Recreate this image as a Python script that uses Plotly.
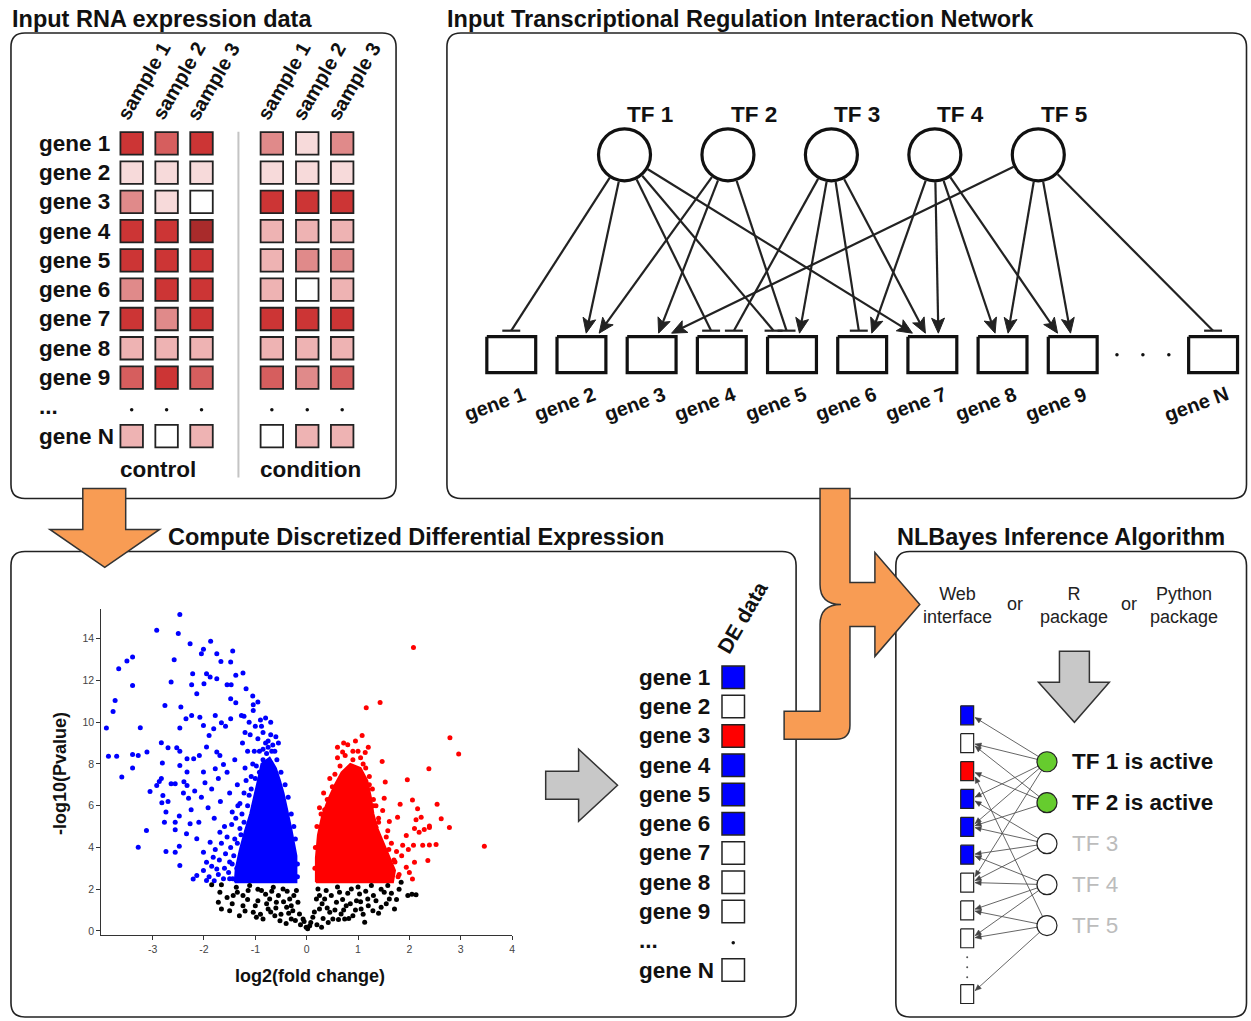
import plotly.graph_objects as go
import math

W, H = 1251, 1021
FONT = "Liberation Sans, Arial, sans-serif"

# ---------------- data ----------------
genes = ["gene 1", "gene 2", "gene 3", "gene 4", "gene 5", "gene 6", "gene 7", "gene 8", "gene 9", "gene N"]
samples = ["sample 1", "sample 2", "sample 3"]
# expression intensity level 0 (white) .. 6 (darkest red)
control_expr = [[5, 4, 5], [1, 1, 1], [3, 1, 0], [5, 5, 6], [5, 5, 5],
                [3, 5, 5], [5, 3, 5], [2, 2, 2], [4, 5, 4], [2, 0, 2]]
condition_expr = [[3, 1, 3], [1, 1, 1], [5, 5, 5], [2, 2, 2], [2, 3, 3],
                  [2, 0, 2], [5, 5, 5], [2, 2, 2], [4, 3, 4], [0, 2, 2]]
expr_palette = ["#ffffff", "#f7dada", "#eeb3b3", "#e08a8a", "#d65e5e", "#cc3535", "#a92b2b"]

tfs = ["TF 1", "TF 2", "TF 3", "TF 4", "TF 5"]
# (tf index, gene index, type) : 'act' = arrow, 'rep' = T-bar
edges = [(0, 0, 'rep'), (0, 1, 'act'), (0, 3, 'rep'), (0, 4, 'rep'), (0, 6, 'act'),
         (1, 1, 'act'), (1, 2, 'act'), (1, 4, 'rep'),
         (2, 3, 'rep'), (2, 4, 'act'), (2, 5, 'rep'), (2, 6, 'act'),
         (3, 5, 'act'), (3, 6, 'act'), (3, 7, 'act'), (3, 8, 'act'),
         (4, 2, 'act'), (4, 7, 'act'), (4, 8, 'act'), (4, 9, 'rep')]
de_state = [-1, 0, 1, -1, -1, -1, 0, 0, 0, 0]
tf_active = [True, True, False, False, False]
de_colors = {-1: "#0000ff", 0: "#ffffff", 1: "#ff0000"}

# volcano plot: (log2 fold change, -log10 p)
volcano_down = [
    (-2.47, 15.15), (-2.92, 14.40), (-2.50, 14.24), (-2.27, 13.76), (-1.87, 13.87), (-2.01, 13.49), (-2.05, 13.28),
    (-1.75, 13.28), (-1.44, 13.41), (-1.67, 12.91), (-1.48, 12.88), (-2.58, 12.99), (-3.39, 13.12), (-3.50, 12.93),
    (-3.66, 12.56), (-3.39, 11.76), (-3.73, 11.04), (-3.77, 10.51), (-3.90, 9.72), (-3.86, 8.37), (-3.70, 8.37),
    (-3.60, 7.37), (-3.39, 7.80), (-3.39, 8.45), (-3.28, 8.40), (-3.24, 9.73), (-3.11, 8.57),
    (-2.76, 10.80), (-2.64, 11.92), (-2.22, 12.32), (-2.24, 11.79), (-2.14, 11.36), (-2.00, 11.84), (-1.95, 12.32),
    (-1.88, 12.16), (-1.75, 12.08), (-1.55, 11.79), (-1.47, 11.79), (-1.38, 12.24), (-1.24, 12.35), (-1.18, 11.60),
    (-1.48, 11.12), (-1.38, 10.93), (-1.05, 11.25), (-0.95, 10.96), (-1.04, 10.83), (-1.04, 10.56),
    (-2.45, 10.72), (-2.35, 10.16), (-2.24, 10.32), (-2.08, 10.24), (-2.01, 9.84), (-1.78, 10.32), (-1.81, 9.68),
    (-1.66, 9.97), (-1.58, 9.80), (-1.48, 10.16), (-1.27, 10.32), (-1.22, 10.28), (-2.47, 9.72), (-1.90, 9.36),
    (-2.83, 9.01), (-2.70, 8.77), (-2.53, 8.77), (-2.47, 8.60), (-2.81, 8.04), (-2.47, 7.92), (-2.33, 8.25),
    (-2.20, 8.25), (-2.09, 8.40), (-1.95, 8.81), (-1.75, 8.57), (-1.69, 8.40), (-1.62, 7.97), (-1.78, 7.77),
    (-2.01, 7.61), (-2.33, 7.61), (-2.33, 6.97), (-2.39, 7.15), (-2.56, 7.05), (-2.64, 7.05), (-2.87, 7.16),
    (-2.83, 7.30), (-2.92, 6.97), (-3.05, 6.68), (-2.80, 6.49), (-2.82, 6.14), (-2.70, 6.20), (-2.74, 5.69),
    (-2.77, 5.21), (-3.12, 4.81), (-3.28, 4.01), (-2.56, 4.84), (-2.48, 5.50), (-2.40, 6.60), (-2.30, 6.35),
    (-2.25, 5.80), (-2.18, 6.70), (-2.10, 5.20), (-2.05, 6.40), (-1.98, 7.10), (-1.92, 5.90), (-1.85, 6.80),
    (-1.80, 5.40), (-1.72, 7.30), (-1.68, 6.20), (-1.60, 5.00), (-1.55, 7.60), (-1.50, 6.60), (-1.45, 5.70),
    (-1.40, 8.20), (-1.35, 7.00), (-1.30, 6.10), (-1.25, 9.00), (-1.20, 7.80), (-1.15, 8.60), (-1.10, 9.40),
    (-1.05, 8.00), (-1.00, 9.80), (-0.95, 9.20), (-0.90, 10.10), (-0.85, 9.50), (-0.80, 9.00), (-0.75, 8.80),
    (-0.70, 9.40), (-0.62, 8.60), (-0.66, 8.90),
    (-2.74, 3.80), (-2.56, 3.77), (-2.47, 3.13), (-2.48, 4.05), (-2.34, 4.65), (-2.21, 2.49),
    (-2.14, 2.65), (-2.01, 2.89), (-2.01, 3.77), (-1.95, 2.41), (-1.95, 3.29), (-1.88, 4.25), (-1.82, 3.53),
    (-1.75, 2.97), (-1.69, 4.73), (-2.27, 5.13), (-2.14, 4.41), (-2.56, 5.21),
    (-1.90, 2.60), (-1.85, 3.10), (-1.80, 2.40), (-1.78, 3.90), (-1.72, 2.70), (-1.70, 3.40), (-1.66, 4.20),
    (-1.62, 2.50), (-1.60, 3.00), (-1.58, 3.70), (-1.55, 4.50), (-1.52, 2.80), (-1.50, 3.30), (-1.48, 4.00),
    (-1.46, 5.10), (-1.44, 2.50), (-1.42, 3.60), (-1.40, 4.40), (-1.38, 5.40), (-1.36, 3.00), (-1.34, 6.00),
    (-1.30, 4.90), (-1.26, 5.60), (-1.22, 6.60), (-1.18, 7.20), (-1.12, 6.50), (-1.08, 7.40), (-1.02, 8.60),
    (-0.98, 7.90), (-0.92, 8.60), (-0.85, 8.20), (-0.78, 8.50),
    (-1.50, 2.50), (-1.45, 3.20), (-1.35, 4.20), (-1.28, 4.60), (-1.22, 5.20), (-1.15, 6.00), (-1.08, 6.80),
    (-1.00, 7.30), (-0.92, 7.60), (-0.85, 8.70), (-0.75, 9.10), (-0.68, 8.60), (-0.58, 8.20), (-0.50, 7.60),
    (-0.42, 7.00), (-0.36, 6.40), (-0.30, 5.60), (-0.25, 5.00), (-0.22, 4.40), (-0.18, 3.20), (-0.18, 2.60),
    (-0.55, 9.00), (-0.60, 9.30), (-0.88, 9.80), (-0.80, 10.20), (-0.70, 10.00), (-1.12, 10.00), (-1.20, 9.50)]
volcano_down_core = [(-1.40, 2.33), (-0.20, 2.33), (-0.20, 3.6), (-0.24, 4.2), (-0.30, 4.9), (-0.38, 5.8),
                     (-0.45, 6.6), (-0.52, 7.2), (-0.60, 7.8), (-0.72, 8.3), (-0.88, 8.0), (-0.95, 7.2),
                     (-1.02, 6.4), (-1.10, 5.6), (-1.20, 4.8), (-1.30, 3.9), (-1.38, 3.0)]
volcano_up = [
    (2.08, 13.57), (1.16, 10.69), (1.43, 10.94), (2.79, 9.25), (2.96, 8.47), (2.38, 7.77), (1.47, 8.12),
    (1.96, 7.24), (1.53, 7.13), (1.08, 9.36), (0.80, 8.92), (0.70, 8.57), (1.14, 8.54), (1.51, 6.36),
    (2.06, 6.27), (2.54, 6.07), (2.16, 5.85), (2.23, 5.45), (2.62, 5.37), (1.82, 6.07), (1.48, 5.77),
    (1.61, 5.24), (1.77, 5.45), (2.13, 5.33), (2.39, 4.95), (2.78, 4.95), (2.29, 4.86), (2.10, 4.90),
    (1.94, 4.57), (3.46, 4.06), (2.52, 4.14), (2.39, 4.12), (2.26, 4.10), (2.08, 4.10), (1.35, 4.97),
    (1.25, 4.60), (2.19, 4.73), (2.36, 3.37), (2.10, 3.29), (2.06, 2.49), (1.94, 3.05), (1.87, 4.10),
    (2.39, 5.02), (1.75, 3.80), (1.80, 2.70), (1.72, 3.30), (1.85, 3.60), (1.98, 3.90), (2.00, 2.80),
    (1.65, 4.20), (1.58, 4.80), (1.40, 5.40), (1.35, 6.00), (1.28, 6.80), (1.22, 7.40), (1.10, 8.00),
    (1.00, 8.60), (0.90, 8.20), (0.85, 7.60), (0.95, 9.10), (0.65, 7.90), (0.55, 7.50), (0.50, 6.90),
    (0.40, 6.30), (0.35, 5.80), (0.28, 5.60), (1.30, 6.30), (1.20, 8.80),
    (0.20, 5.00), (0.25, 5.90), (0.33, 6.60), (0.45, 7.30), (0.60, 8.30), (0.75, 8.40), (0.90, 8.60),
    (1.05, 8.30), (1.15, 7.80), (1.22, 7.00), (1.30, 6.00), (1.40, 5.20), (1.55, 4.50), (1.60, 3.90),
    (1.70, 3.40), (1.78, 2.60), (0.16, 3.00), (0.17, 4.00), (0.72, 9.00), (0.60, 8.80)]
volcano_up_core = [(0.18, 2.33), (1.68, 2.33), (1.72, 2.9), (1.62, 3.5), (1.50, 4.2), (1.38, 4.9),
                   (1.30, 5.6), (1.25, 6.4), (1.18, 7.2), (1.05, 7.8), (0.85, 8.0), (0.68, 7.6),
                   (0.55, 7.0), (0.42, 6.3), (0.30, 5.5), (0.22, 4.6), (0.18, 3.5)]
volcano_ns = [
    (-1.85, 2.21), (-1.66, 2.21), (-1.69, 1.85), (-1.72, 1.37), (-1.66, 1.05), (-1.50, 0.97), (-1.43, 1.69),
    (-1.37, 2.09), (-1.31, 0.73), (-1.24, 1.21), (-1.24, 1.69), (-1.14, 1.93), (-1.11, 2.17), (-1.04, 0.89),
    (-0.98, 0.65), (-0.95, 1.45), (-0.88, 1.93), (-0.85, 0.57), (-0.75, 1.05), (-0.72, 1.53), (-0.65, 2.09),
    (-0.62, 0.73), (-0.59, 1.37), (-0.52, 0.49), (-0.46, 2.01), (-0.39, 1.13), (-0.33, 1.53), (-0.30, 0.57),
    (-0.27, 0.97), (-0.20, 1.93), (-0.17, 1.37), (-0.14, 0.81), (-0.07, 0.57), (-0.01, 0.17), (0.06, 0.25),
    (0.12, 0.65), (0.19, 1.53), (0.22, 2.01), (0.25, 1.05), (0.29, 0.17), (0.35, 1.53), (0.38, 1.93),
    (0.45, 0.89), (0.51, 0.57), (0.58, 1.37), (0.64, 1.85), (0.67, 0.81), (0.74, 0.57), (0.77, 1.21),
    (0.87, 2.01), (0.90, 0.73), (0.97, 1.45), (1.03, 1.77), (1.06, 1.05), (1.13, 0.41), (1.19, 1.53),
    (1.26, 2.17), (1.29, 0.97), (1.35, 1.45), (1.45, 1.13), (1.51, 1.85), (1.58, 2.17), (1.61, 1.53),
    (1.71, 1.05), (1.84, 2.33), (1.97, 1.69), (2.13, 1.73),
    (-1.55, 1.60), (-1.45, 1.30), (-1.35, 1.85), (-1.20, 0.95), (-1.15, 1.50), (-1.00, 1.20), (-0.95, 2.00),
    (-0.90, 0.80), (-0.80, 1.75), (-0.78, 1.30), (-0.70, 0.90), (-0.68, 1.90), (-0.60, 1.10), (-0.55, 1.70),
    (-0.50, 0.80), (-0.45, 1.40), (-0.40, 0.35), (-0.38, 1.90), (-0.35, 0.85), (-0.30, 1.20), (-0.25, 1.70),
    (-0.22, 0.50), (-0.12, 0.30), (-0.05, 0.45), (0.02, 0.10), (0.08, 0.40), (0.15, 0.90), (0.20, 0.30),
    (0.25, 1.70), (0.30, 1.30), (0.32, 0.60), (0.40, 1.10), (0.42, 0.40), (0.48, 1.70), (0.55, 1.00),
    (0.60, 2.10), (0.62, 0.55), (0.70, 1.50), (0.72, 1.00), (0.80, 1.80), (0.82, 0.60), (0.85, 1.30),
    (0.95, 1.00), (1.00, 2.10), (1.05, 1.40), (1.10, 0.80), (1.15, 1.90), (1.20, 1.20), (1.30, 1.70),
    (1.40, 0.85), (1.45, 2.00), (1.55, 1.30), (1.65, 1.80), (1.75, 1.50), (1.80, 2.00), (2.05, 1.75)]
x_ticks = [-3, -2, -1, 0, 1, 2, 3, 4]
y_ticks = [0, 2, 4, 6, 8, 10, 12, 14]

# ---------------- figure ----------------
fig = go.Figure()
shapes = []
annos = []


def txt(x, y, s, size, bold=True, color="#111", xanchor="center", angle=0):
    annos.append(dict(x=x, y=y, xref="x", yref="y", text=("<b>%s</b>" % s) if bold else s,
                      showarrow=False, xanchor=xanchor, yanchor="middle", textangle=angle,
                      font=dict(family=FONT, size=size, color=color)))


def rrect(x0, y0, x1, y1, r):
    return ("M%g,%g L%g,%g Q%g,%g %g,%g L%g,%g Q%g,%g %g,%g L%g,%g Q%g,%g %g,%g L%g,%g Q%g,%g %g,%g Z" %
            (x0 + r, y0, x1 - r, y0, x1, y0, x1, y0 + r, x1, y1 - r, x1, y1, x1 - r, y1,
             x0 + r, y1, x0, y1, x0, y1 - r, x0, y0 + r, x0, y0, x0 + r, y0))


# panels
for (x0, y0, x1, y1) in [(11, 33, 397, 499), (448, 33, 1249.5, 499), (11, 552, 798, 1018), (898, 552, 1249.5, 1018)]:
    shapes.append(dict(type="path", path=rrect(x0, y0, x1, y1, 14), xref="x", yref="y",
                       line=dict(color="#222", width=1.6), fillcolor="rgba(0,0,0,0)", layer="below"))

TITLE = 23.5
txt(10, 19, "Input RNA expression data", TITLE, xanchor="left")
txt(446, 19, "Input Transcriptional Regulation Interaction Network", TITLE, xanchor="left")
txt(166, 538, "Compute Discretized Differential Expression", TITLE, xanchor="left")
txt(897, 538, "NLBayes Inference Algorithm", TITLE, xanchor="left")

# ---------- panel 1 : expression heatmap ----------
HEAT_Y0, HEAT_P = 143.5, 29.3
heat_slot = list(range(9)) + [10]
ctrl_x = [132, 167, 202]
cond_x = [272.5, 308, 343]
for data, xs in [(control_expr, ctrl_x), (condition_expr, cond_x)]:
    px, py, pc = [], [], []
    for gi, row in enumerate(data):
        for si, v in enumerate(row):
            px.append(xs[si]); py.append(HEAT_Y0 + HEAT_P * heat_slot[gi]); pc.append(expr_palette[v])
    fig.add_trace(go.Scatter(x=px, y=py, mode="markers", hoverinfo="skip",
                             marker=dict(symbol="square", size=22.5, color=pc, line=dict(color="#222", width=1.8))))
    for si, s in enumerate(samples):
        txt(xs[si] + 12, 81, s, 20, angle=-60)
    fig.add_trace(go.Scatter(x=xs, y=[HEAT_Y0 + HEAT_P * 9 + 3] * 3, mode="markers", hoverinfo="skip",
                             marker=dict(size=3.5, color="#111")))
for gi, g in enumerate(genes):
    txt(37, HEAT_Y0 + HEAT_P * heat_slot[gi], g, 22.5, xanchor="left")
txt(37, HEAT_Y0 + HEAT_P * 9, "...", 22.5, xanchor="left")
shapes.append(dict(type="line", x0=239, x1=239, y0=132, y1=478, xref="x", yref="y",
                   line=dict(color="#c4c4c4", width=2)))
txt(158.5, 470, "control", 22.5)
txt(311.5, 470, "condition", 22.5)

# ---------- panel 2 : regulatory network ----------
TF_X0, TF_P, TF_Y, TF_R = 626.0, 103.7, 155.0, 27.5
tf_x = [TF_X0 + TF_P * k for k in range(len(tfs))]
net_slot = list(range(9)) + [10]
GENE_X0, GENE_P = 512.5, 70.35
gene_x = [GENE_X0 + GENE_P * s for s in net_slot]
BOX_CY, BOX_HW, BOX_HH = 355.0, 24.5, 18.0
TIP_Y, BAR_Y = 333.5, 331.0

end_x = {}
for g in range(len(genes)):
    inc = sorted([e for e in edges if e[1] == g], key=lambda e: tf_x[e[0]])
    if len(inc) == 1:
        offs = [0.0]
    else:
        offs = [max(-20.0, min(20.0, (tf_x[e[0]] - gene_x[g]) * 0.11)) for e in inc]
        for i in range(1, len(offs)):
            if offs[i] < offs[i - 1] + 13:
                offs[i] = offs[i - 1] + 13
        if offs[-1] > 20:
            sh = offs[-1] - 20
            offs = [o - sh for o in offs]
    for e, o in zip(inc, offs):
        end_x[e] = gene_x[g] + o

lx, ly, hx, hy, bx, by = [], [], [], [], [], []
for e in edges:
    t, g, kind = e
    ex = end_x[e]
    ey = TIP_Y if kind == "act" else BAR_Y
    dx, dy = ex - tf_x[t], ey - TF_Y
    d = math.hypot(dx, dy)
    ux, uy = dx / d, dy / d
    sx, sy = tf_x[t] + TF_R * ux, TF_Y + TF_R * uy
    if kind == "act":
        L, w = 15.0, 6.5
        lx += [sx, ex - ux * L * 0.7, None]; ly += [sy, ey - uy * L * 0.7, None]
        bxp, byp = ex - ux * L, ey - uy * L
        nx, ny = -uy, ux
        hx += [ex, bxp + nx * w, ex - ux * L * 0.78, bxp - nx * w, ex, None]
        hy += [ey, byp + ny * w, ey - uy * L * 0.78, byp - ny * w, ey, None]
    else:
        lx += [sx, ex, None]; ly += [sy, ey, None]
        bx += [ex - 9, ex + 9, None]; by += [ey, ey, None]
fig.add_trace(go.Scatter(x=lx, y=ly, mode="lines", line=dict(color="#222", width=2.2), hoverinfo="skip"))
fig.add_trace(go.Scatter(x=bx, y=by, mode="lines", line=dict(color="#222", width=2.2), hoverinfo="skip"))
fig.add_trace(go.Scatter(x=hx, y=hy, mode="lines", fill="toself", fillcolor="#222",
                         line=dict(color="#222", width=1), hoverinfo="skip"))
# gene boxes
rx, ry = [], []
for g in range(len(genes)):
    x0, x1 = gene_x[g] - BOX_HW, gene_x[g] + BOX_HW
    y0, y1 = BOX_CY - BOX_HH, BOX_CY + BOX_HH
    rx += [x0, x1, x1, x0, x0, None]; ry += [y0, y0, y1, y1, y0, None]
    txt(gene_x[g] - 17, 404, genes[g], 20, angle=-20)
fig.add_trace(go.Scatter(x=rx, y=ry, mode="lines", line=dict(color="#111", width=3.2), hoverinfo="skip"))
dots_c = GENE_X0 + GENE_P * 9
fig.add_trace(go.Scatter(x=[dots_c - 26, dots_c, dots_c + 26], y=[BOX_CY] * 3, mode="markers",
                         marker=dict(size=3.5, color="#111"), hoverinfo="skip"))
# TF nodes
fig.add_trace(go.Scatter(x=tf_x, y=[TF_Y] * len(tfs), mode="markers", hoverinfo="skip",
                         marker=dict(symbol="circle", size=52, color="white", line=dict(color="#111", width=3.2))))
for k, t in enumerate(tfs):
    txt(tf_x[k] + 26, 115, t, 22.5)

# ---------- panel 3 : volcano + DE data ----------
def xy(pts):
    return [p[0] for p in pts], [p[1] for p in pts]


cx, cy = xy(volcano_down_core + volcano_down_core[:1])
fig.add_trace(go.Scatter(x=cx, y=cy, xaxis="x2", yaxis="y2", mode="lines", fill="toself",
                         fillcolor="#0000ff", line=dict(color="#0000ff", width=2), hoverinfo="skip"))
cx, cy = xy(volcano_up_core + volcano_up_core[:1])
fig.add_trace(go.Scatter(x=cx, y=cy, xaxis="x2", yaxis="y2", mode="lines", fill="toself",
                         fillcolor="#ff0000", line=dict(color="#ff0000", width=2), hoverinfo="skip"))
for pts, col in [(volcano_down, "#0000ff"), (volcano_up, "#ff0000"), (volcano_ns, "#000000")]:
    vx, vy = xy(pts)
    fig.add_trace(go.Scatter(x=vx, y=vy, xaxis="x2", yaxis="y2", mode="markers",
                             marker=dict(size=5, color=col), hoverinfo="skip"))
txt(60, 774, "-log10(Pvalue)", 18, angle=-90)
txt(311, 977, "log2(fold change)", 18)

# gray arrow
shapes.append(dict(type="path", xref="x", yref="y", layer="above",
                   path="M547,772 L580,772 L580,750 L619,786 L580,822 L580,800 L547,800 Z",
                   fillcolor="#c8c8c8", line=dict(color="#333", width=1.5)))

DE_Y0, DE_P, DE_X = 678.0, 29.3, 735.0
de_slot = list(range(9)) + [10]
fig.add_trace(go.Scatter(x=[DE_X] * len(genes), y=[DE_Y0 + DE_P * s for s in de_slot], mode="markers",
                         hoverinfo="skip",
                         marker=dict(symbol="square", size=22.5, color=[de_colors[v] for v in de_state],
                                     line=dict(color="#222", width=1.5))))
fig.add_trace(go.Scatter(x=[DE_X], y=[DE_Y0 + DE_P * 9 + 2], mode="markers",
                         marker=dict(size=3.5, color="#111"), hoverinfo="skip"))
for gi, g in enumerate(genes):
    txt(639, DE_Y0 + DE_P * de_slot[gi], g, 22.5, xanchor="left")
txt(639, DE_Y0 + DE_P * 9, "...", 22.5, xanchor="left")
txt(744, 618, "DE data", 21, angle=-60)

# ---------- panel 4 : NLBayes ----------
txt(960, 606, "Web<br>interface", 18, bold=False, color="#222")
txt(1017, 605, "or", 18, bold=False, color="#222")
txt(1077, 606, "R<br>package", 18, bold=False, color="#222")
txt(1132, 605, "or", 18, bold=False, color="#222")
txt(1187, 606, "Python<br>package", 18, bold=False, color="#222")
shapes.append(dict(type="path", xref="x", yref="y", layer="above",
                   path="M1062,652 L1092,652 L1092,683 L1112,683 L1077,723 L1041,683 L1062,683 Z",
                   fillcolor="#c8c8c8", line=dict(color="#333", width=1.5)))

MN_GX, MN_GW, MN_GH = 969.5, 13.0, 19.0
MN_GY0, MN_GP = 716.0, 27.9
mn_slot = list(range(9)) + [10]
mn_gy = [MN_GY0 + MN_GP * s for s in mn_slot]
MN_TX, MN_TY0, MN_TP, MN_TR = 1049.5, 762.5, 41.0, 10.0
mn_ty = [MN_TY0 + MN_TP * k for k in range(len(tfs))]

mlx, mly, mhx, mhy = [], [], [], []
for (t, g, kind) in edges:
    ex = MN_GX + MN_GW / 2 + 1.5
    ey = mn_gy[g] + max(-6.0, min(6.0, (mn_ty[t] - mn_gy[g]) * 0.05))
    dx, dy = ex - MN_TX, ey - mn_ty[t]
    d = math.hypot(dx, dy)
    ux, uy = dx / d, dy / d
    sx, sy = MN_TX + MN_TR * ux, mn_ty[t] + MN_TR * uy
    mlx += [sx, ex, None]; mly += [sy, ey, None]
    L, w = 6.0, 2.6
    bxp, byp = ex - ux * L, ey - uy * L
    nx, ny = -uy, ux
    mhx += [ex, bxp + nx * w, bxp - nx * w, ex, None]
    mhy += [ey, byp + ny * w, byp - ny * w, ey, None]
fig.add_trace(go.Scatter(x=mlx, y=mly, mode="lines", line=dict(color="#555", width=0.9), hoverinfo="skip"))
fig.add_trace(go.Scatter(x=mhx, y=mhy, mode="lines", fill="toself", fillcolor="#444",
                         line=dict(color="#444", width=0.5), hoverinfo="skip"))
for state in (-1, 0, 1):
    qx, qy = [], []
    for g in range(len(genes)):
        if de_state[g] != state:
            continue
        x0, x1 = MN_GX - MN_GW / 2, MN_GX + MN_GW / 2
        y0, y1 = mn_gy[g] - MN_GH / 2, mn_gy[g] + MN_GH / 2
        qx += [x0, x1, x1, x0, x0, None]; qy += [y0, y0, y1, y1, y0, None]
    fig.add_trace(go.Scatter(x=qx, y=qy, mode="lines", fill="toself", fillcolor=de_colors[state],
                             line=dict(color="#222", width=1.2), hoverinfo="skip"))
fig.add_trace(go.Scatter(x=[MN_GX] * 3, y=[MN_GY0 + MN_GP * 9 + o for o in (-9, 1, 11)], mode="markers",
                         marker=dict(size=2, color="#555"), hoverinfo="skip"))
fig.add_trace(go.Scatter(x=[MN_TX] * len(tfs), y=mn_ty, mode="markers", hoverinfo="skip",
                         marker=dict(symbol="circle", size=20,
                                     color=["#66cc2e" if a else "white" for a in tf_active],
                                     line=dict(color="#222", width=1.2))))
for k, t in enumerate(tfs):
    if tf_active[k]:
        txt(1073, mn_ty[k], t + " is active", 22.5, xanchor="left", color="#111")
    else:
        txt(1073, mn_ty[k], t, 22.5, bold=False, xanchor="left", color="#bcbcbc")

# ---------- orange flow arrows ----------
ORANGE = "#f89c54"
shapes.append(dict(type="path", xref="x", yref="y", layer="above",
                   path="M83,489 L126,489 L126,530 L160,530 L105,568 L50,530 L83,530 Z",
                   fillcolor=ORANGE, line=dict(color="#333", width=1.5)))
shapes.append(dict(type="path", xref="x", yref="y", layer="above",
                   path=("M822,489 L852,489 L852,583 L877,583 L877,553 L922,605 L877,657 L877,627 "
                         "L852,627 L852,726 Q852,740 838,740 L786,740 L786,712 L822,712 L822,625 "
                         "Q822,605 843,605 Q822,605 822,585 Z"),
                   fillcolor=ORANGE, line=dict(color="#333", width=1.5)))

fig.update_layout(
    width=W, height=H, margin=dict(l=0, r=0, t=0, b=0),
    paper_bgcolor="white", plot_bgcolor="rgba(0,0,0,0)", showlegend=False,
    xaxis=dict(range=[0, W], domain=[0, 1], visible=False, fixedrange=True),
    yaxis=dict(range=[H, 0], domain=[0, 1], visible=False, fixedrange=True),
    xaxis2=dict(domain=[101.5 / W, 513.3 / W], range=[-4, 4], anchor="y2",
                tickvals=x_ticks, ticktext=[str(v) for v in x_ticks],
                showline=True, linecolor="#333", linewidth=1, ticks="outside", ticklen=4,
                tickcolor="#333", showgrid=False, zeroline=False,
                tickfont=dict(family=FONT, size=10.5, color="#444")),
    yaxis2=dict(domain=[1 - 936 / H, 1 - 610 / H], range=[-0.2, 15.4], anchor="x2",
                tickvals=y_ticks, ticktext=[str(v) for v in y_ticks],
                showline=True, linecolor="#333", linewidth=1, ticks="outside", ticklen=4,
                tickcolor="#333", showgrid=False, zeroline=False,
                tickfont=dict(family=FONT, size=10.5, color="#444")),
    shapes=shapes, annotations=annos,
)
fig.write_html("out.html", config={"displayModeBar": False},
               post_script="document.body.style.margin='0';document.body.style.padding='0';")
